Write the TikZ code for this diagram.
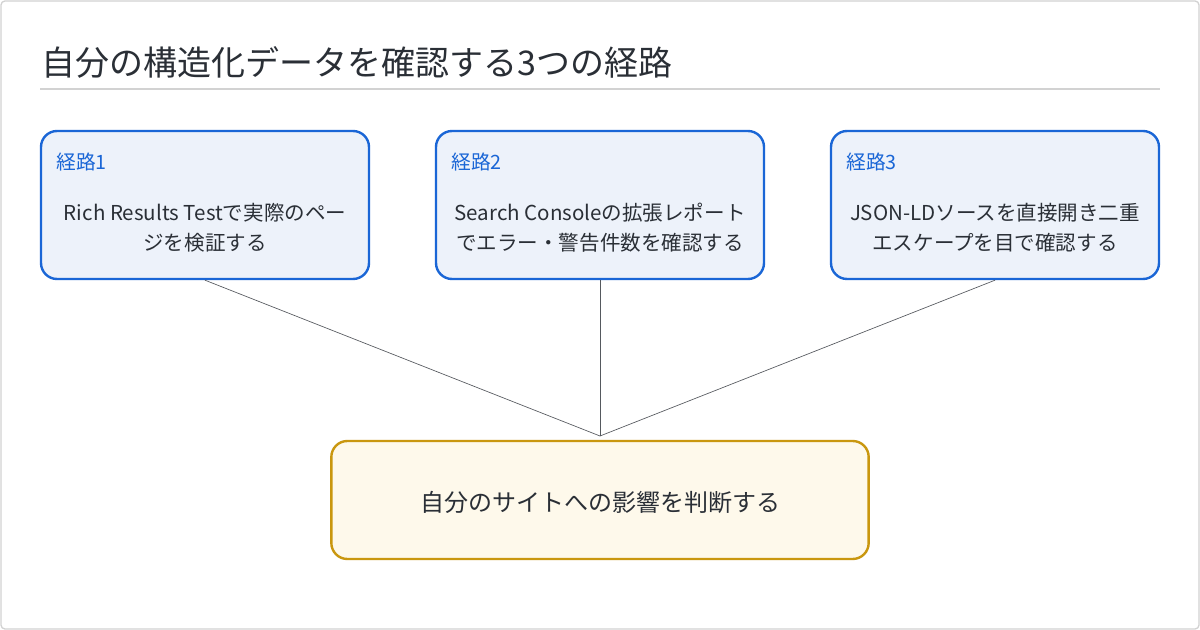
\documentclass[tikz,border=0pt]{standalone}
\usepackage{fontspec}
\setmainfont{Noto Sans CJK JP}
\usetikzlibrary{positioning}
\definecolor{routeblue}{HTML}{1A66D6}
\definecolor{routefill}{HTML}{EDF2FA}
\definecolor{goalgold}{HTML}{C9970F}
\definecolor{goalfill}{HTML}{FEF9EB}
\definecolor{textdark}{HTML}{2A2F36}
\begin{document}
\begin{tikzpicture}[x=0.75pt,y=-0.75pt,
    route/.style={draw=routeblue,line width=1.8pt,fill=routefill,rounded corners=12pt,
      minimum width=246pt,minimum height=111pt,inner sep=0pt},
    goal/.style={draw=goalgold,line width=1.8pt,fill=goalfill,rounded corners=12pt,
      minimum width=403pt,minimum height=88.5pt,inner sep=0pt},
    tag/.style={text=routeblue,font=\fontsize{14.8}{17}\selectfont,anchor=west},
    body/.style={text=textdark,font=\fontsize{15.4}{22.5}\selectfont,align=center},
    link/.style={draw=textdark!80,line width=0.5pt}]
  \useasboundingbox (0,0) rectangle (1200,630);
  \draw[draw=gray!35,line width=1pt,fill=white,rounded corners=3pt] (1,1) rectangle (1199,629);
  \node[anchor=west,inner sep=0pt,text=textdark,font=\fontsize{25.5}{30}\selectfont] (title) at (41,62) {自分の構造化データを確認する3つの経路};
  \draw[gray!35,line width=0.8pt] (40,89) -- (1160,89);

  \node[route] (r1) at (205,205) {};
  \node[route] (r2) at (600,205) {};
  \node[route] (r3) at (995,205) {};
  \node[tag,inner sep=0pt] (t1) at (56,162) {経路1};
  \node[tag,inner sep=0pt] (t2) at (451,162) {経路2};
  \node[tag,inner sep=0pt] (t3) at (846,162) {経路3};
  \node[body] (b1) at (205,228) {Rich Results Testで実際のペー\\ジを検証する};
  \node[body] (b2) at (600,228) {Search Consoleの拡張レポート\\でエラー・警告件数を確認する};
  \node[body] (b3) at (995,228) {JSON-LDソースを直接開き二重\\エスケープを目で確認する};

  \node[goal] (g) at (600,500) {};
  \node[text=textdark,font=\fontsize{18}{22}\selectfont] (gt) at (600,502) {自分のサイトへの影響を判断する};
  \coordinate (join) at (600,436);

  \draw[link] (r1.south) -- (join);
  \draw[link] (r2.south) -- (join);
  \draw[link] (r3.south) -- (join);
\end{tikzpicture}
\end{document}
